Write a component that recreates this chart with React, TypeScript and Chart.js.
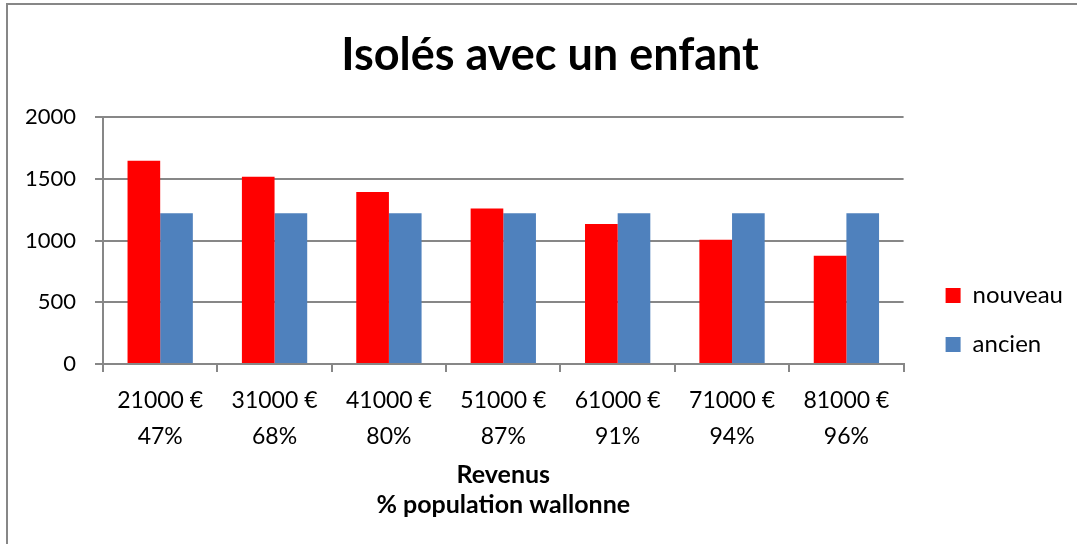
import React, { useEffect, useRef } from "react";
import { Chart, registerables } from "chart.js";

Chart.register(...registerables);

const revenus = ["21000 €", "31000 €", "41000 €", "51000 €", "61000 €", "71000 €", "81000 €"];
const populationPct = ["47%", "68%", "80%", "87%", "91%", "94%", "96%"];
const nouveau = [1645, 1517, 1393, 1260, 1134, 1007, 877];
const ancien = [1220, 1220, 1220, 1220, 1220, 1220, 1220];
const yTicks = [0, 500, 1000, 1500, 2000];

const FONT = "Lato, 'Open Sans', sans-serif";
const GRID = "#878787";

const framePlugin = {
  id: "frame",
  afterLayout(chart: any) {
    const lg = chart.legend;
    if (lg) {
      const w = lg.width;
      const h = lg.height;
      lg.left = chart.chartArea.right + 17;
      lg.right = lg.left + w;
      lg.top = lg.top + 48;
      lg.bottom = lg.top + h;
    }
    const t = chart.titleBlock;
    if (t) {
      t.left = t.left + 44;
    }
  },
  beforeDraw(chart: any) {
    const { ctx, width, height } = chart;
    ctx.save();
    ctx.fillStyle = "#ffffff";
    ctx.fillRect(0, 0, width, height);
    ctx.strokeStyle = GRID;
    ctx.lineWidth = 2;
    ctx.beginPath();
    ctx.moveTo(7, height + 5);
    ctx.lineTo(7, 4);
    ctx.lineTo(width + 5, 4);
    ctx.stroke();
    ctx.restore();
  },
};

export default function App() {
  const ref = useRef<HTMLCanvasElement>(null);
  useEffect(() => {
    if (!ref.current) return;
    const chart = new Chart(ref.current, {
      type: "bar",
      data: {
        labels: revenus.map((r, i) => [r, populationPct[i]]),
        datasets: [
          { label: "nouveau", data: nouveau, backgroundColor: "#ff0000", borderWidth: 0 },
          { label: "ancien", data: ancien, backgroundColor: "#4f81bd", borderWidth: 0 },
        ],
      },
      options: {
        animation: false,
        responsive: false,
        maintainAspectRatio: false,
        layout: { padding: { left: 0, right: 21, top: 0, bottom: 0 } },
        datasets: { bar: { categoryPercentage: 0.571, barPercentage: 1 } },
        plugins: {
          title: {
            display: true,
            text: "Isolés avec un enfant",
            color: "#000",
            font: { family: FONT, size: 45, weight: "bold", lineHeight: 1.2 },
            padding: { top: 28, bottom: 35 },
          },
          legend: {
            position: "right",
            labels: {
              color: "#000",
              font: { family: FONT, size: 24 },
              boxWidth: 15,
              boxHeight: 15,
              padding: 25,
            },
          },
          tooltip: { enabled: false },
        },
        scales: {
          x: {
            afterFit(scale: any) {
              scale.height = 180;
            },
            grid: { display: true, drawOnChartArea: false, color: GRID, lineWidth: 2, tickLength: 8, offset: true },
            border: { color: GRID, width: 2 },
            ticks: { color: "#000", font: { family: FONT, size: 23, lineHeight: 1.565 }, padding: 11, maxRotation: 0, autoSkip: false },
            title: {
              display: true,
              text: ["Revenus", "% population wallonne"],
              color: "#000",
              font: { family: FONT, size: 25, weight: "bold", lineHeight: 1.2 },
              padding: { top: 0, bottom: 24 },
            },
          },
          y: {
            min: 0,
            max: 2000,
            afterBuildTicks(scale: any) {
              scale.ticks = yTicks.map((v) => ({ value: v }));
            },
            afterFit(scale: any) {
              scale.width = 103;
            },
            grid: { color: GRID, lineWidth: 2, tickLength: 8 },
            border: { color: GRID, width: 2 },
            ticks: {
              color: "#000",
              font: { family: FONT, size: 22 },
              padding: 19,
              callback: (v: any) => String(v),
            },
          },
        },
      },
      plugins: [framePlugin],
    });
    return () => chart.destroy();
  }, []);
  return (
    <div style={{ position: "fixed", left: 0, top: 0 }}>
      <canvas ref={ref} width={1077} height={544} style={{ display: "block" }} />
    </div>
  );
}
